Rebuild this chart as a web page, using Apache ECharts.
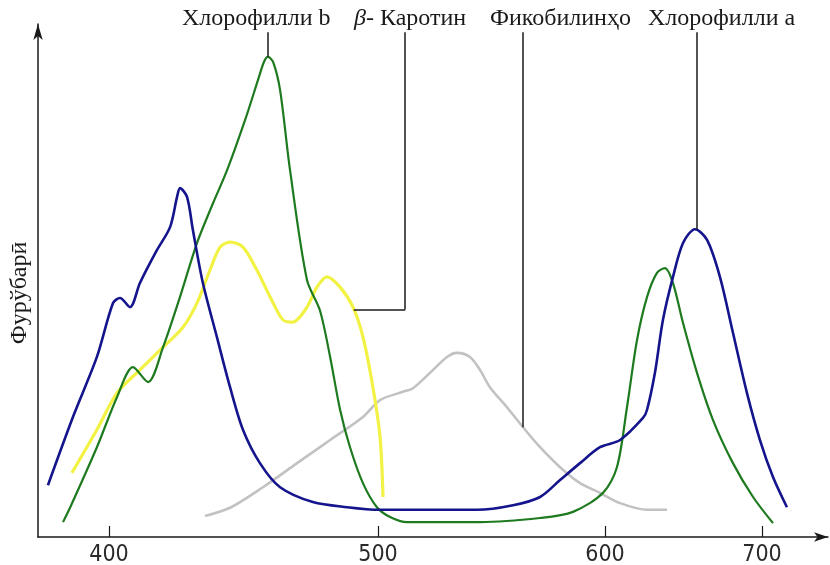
<!DOCTYPE html>
<html>
<head>
<meta charset="utf-8">
<script src="https://cdn.jsdelivr.net/npm/echarts@6/dist/echarts.min.js"></script>
<style>
  html, body { margin: 0; padding: 0; background: #fff; }
  #chart { width: 830px; height: 565px; }
</style>
</head>
<body>
<div id="chart"></div>
<script>
// Wavelength (nm) and relative absorption for each pigment
const chlA_nm  = [377.3, 386.6, 395.5, 401.5, 404.1, 407.8, 411.5, 417.8, 422.7, 425.3, 426.4, 429.0, 431.2, 434.9, 440.1, 445.0, 449.8, 456.1, 463.6, 475.8, 488.5, 500.9, 523.3, 543.6, 559.5, 571.4, 580.2, 589.0, 597.8, 609.6, 624.2, 626.8, 631.8, 636.9, 643.3, 649.7, 657.3, 665.0, 673.2, 681.5, 690.4, 698.7, 707.0, 715.9];
const chlA_val = [10.1, 23.4, 35.1, 45.6, 46.6, 44.8, 49.5, 55.9, 60.4, 66.3, 68.0, 66.3, 59.8, 49.5, 39.0, 29.2, 20.9, 14.4, 9.7, 6.8, 5.8, 5.3, 5.3, 5.3, 6.2, 7.8, 11.1, 14.4, 17.5, 18.9, 23.2, 24.8, 32.0, 42.3, 50.7, 57.3, 60.0, 57.9, 50.7, 39.8, 28.1, 18.9, 11.7, 5.8];

const chlB_nm  = [382.9, 385.5, 395.5, 403.0, 408.9, 414.5, 420.1, 426.4, 432.7, 438.7, 443.9, 450.6, 455.4, 457.6, 459.1, 461.0, 463.6, 467.3, 473.6, 478.4, 482.2, 485.9, 489.6, 494.4, 499.6, 505.3, 512.8, 544.9, 571.4, 585.9, 599.1, 607.6, 614.0, 620.4, 626.8, 633.1, 638.2, 643.3, 649.7, 658.6, 668.8, 681.5, 694.3, 707.0];
const chlB_val = [2.9, 5.7, 17.5, 27.3, 33.1, 30.2, 37.0, 46.8, 57.3, 65.1, 71.5, 81.3, 89.1, 92.6, 93.6, 92.6, 87.1, 71.5, 50.1, 44.2, 35.1, 24.8, 17.5, 10.5, 5.8, 3.9, 2.9, 2.9, 3.7, 4.9, 8.6, 13.6, 25.3, 38.4, 46.8, 51.5, 52.4, 49.5, 41.7, 32.0, 22.8, 14.4, 7.8, 2.7];

const carot_nm  = [386.2, 395.5, 403.0, 411.5, 420.1, 427.5, 432.7, 437.5, 441.3, 445.0, 449.8, 455.0, 459.9, 464.7, 468.4, 473.6, 477.3, 481.0, 485.9, 490.7, 494.4, 498.1, 500.9, 502.2];
const carot_val = [12.5, 20.9, 28.1, 32.6, 37.0, 40.9, 45.6, 52.0, 56.5, 57.5, 56.5, 52.0, 46.8, 42.3, 41.9, 44.8, 48.7, 50.7, 48.7, 44.8, 39.0, 29.2, 19.5, 7.8];

const phyco_nm  = [435.7, 445.0, 457.2, 469.9, 482.2, 494.4, 500.9, 511.0, 515.4, 522.9, 530.4, 534.8, 540.5, 544.9, 549.3, 556.8, 563.9, 571.4, 580.2, 589.0, 597.8, 609.6, 626.8, 639.5];
const phyco_val = [4.1, 5.7, 9.7, 14.4, 18.9, 23.4, 26.7, 28.3, 29.0, 32.0, 35.1, 35.9, 35.1, 32.6, 29.2, 25.3, 21.4, 17.5, 13.6, 10.5, 8.6, 6.6, 5.3, 5.3];

// Axis tick labels (nm)
const tickNm = [400, 500, 600, 700];

// Pigment captions above the plot
const captions = ['Хлорофилли b', 'β- Каротин', 'Фикобилинҳо', 'Хлорофилли а'];
const yTitle = 'Фурўбарӣ';

// The wavelength axis is drawn unevenly: piecewise-linear knots (nm -> axis units)
const scaleKnotsNm = [400, 500, 600, 700];
const scaleKnotsU  = [71, 340, 567, 724];
function warp(nm) {
  const k = scaleKnotsNm, u = scaleKnotsU, n = k.length;
  if (nm <= k[0]) return u[0] + (nm - k[0]) * (u[1] - u[0]) / (k[1] - k[0]);
  if (nm >= k[n - 1]) return u[n - 1] + (nm - k[n - 1]) * (u[n - 1] - u[n - 2]) / (k[n - 1] - k[n - 2]);
  for (let i = 0; i < n - 1; i++) {
    if (nm <= k[i + 1]) return u[i] + (nm - k[i]) * (u[i + 1] - u[i]) / (k[i + 1] - k[i]);
  }
}
function unwarp(x) {
  const k = scaleKnotsNm, u = scaleKnotsU;
  for (let i = 0; i < k.length - 1; i++) {
    if (x <= u[i + 1] + 0.01) return k[i] + (x - u[i]) * (k[i + 1] - k[i]) / (u[i + 1] - u[i]);
  }
  return k[k.length - 1];
}
function valueAt(xs, ys, nm) {
  for (let i = 0; i < xs.length - 1; i++) {
    if (nm >= xs[i] && nm <= xs[i + 1]) return ys[i] + (nm - xs[i]) * (ys[i + 1] - ys[i]) / (xs[i + 1] - xs[i]);
  }
  return ys[ys.length - 1];
}
function pairs(xs, ys) { return xs.map((x, i) => [warp(x), ys[i]]); }
function peakOf(xs, ys, from) {
  let best = -1;
  xs.forEach((x, i) => { if (x >= from && (best < 0 || ys[i] > ys[best])) best = i; });
  return [xs[best], ys[best]];
}

const leaderTop = 98.4;
const ink = '#1a1a1a';
const leaderStyle = { color: ink, width: 1.5, type: 'solid' };
function leader(segments) {
  return {
    silent: true, symbol: 'none', animation: false,
    lineStyle: leaderStyle, label: { show: false }, emphasis: { disabled: true },
    data: segments.map(s => [{ coord: [warp(s[0]), s[1]] }, { coord: [warp(s[2]), s[3]] }])
  };
}

const bPeak = peakOf(chlB_nm, chlB_val, 400);
const aPeak = peakOf(chlA_nm, chlA_val, 600);
const carotAnchorNm = 491, carotElbowNm = 512;
const carotAnchorV = valueAt(carot_nm, carot_val, carotAnchorNm);
const phycoAnchorNm = 563.9;
const phycoAnchorV = valueAt(phyco_nm, phyco_val, phycoAnchorNm);

const chart = echarts.init(document.getElementById('chart'), null, { renderer: 'canvas' });
const serif = '"Liberation Serif", "DejaVu Serif", serif';
const capFont = '24px ' + serif;

chart.setOption({
  animation: false,
  backgroundColor: '#ffffff',
  grid: { left: 38, right: 2, top: 24, bottom: 28, containLabel: false, outerBoundsMode: 'none' },
  xAxis: {
    type: 'value', min: 0, max: 790,
    axisLine: { show: true, lineStyle: { color: ink, width: 1.5 }, symbol: ['none', 'arrow'], symbolSize: [7, 14] },
    axisTick: { show: true, inside: true, length: 11, lineStyle: { color: ink, width: 1.2 }, customValues: tickNm.map(warp) },
    axisLabel: {
      show: true, margin: 7, color: '#2a2a2a',
      fontFamily: '"Liberation Sans Narrow", "DejaVu Sans Condensed", sans-serif', fontSize: 23,
      customValues: tickNm.map(warp),
      formatter: v => String(Math.round(unwarp(v)))
    },
    splitLine: { show: false }
  },
  yAxis: {
    type: 'value', min: 0, max: 100,
    axisLine: { show: true, lineStyle: { color: ink, width: 1.5 }, symbol: ['none', 'arrow'], symbolSize: [7, 16] },
    axisTick: { show: false }, axisLabel: { show: false }, splitLine: { show: false }
  },
  series: [
    {
      name: 'Хлорофилли a', type: 'line', data: pairs(chlA_nm, chlA_val), smooth: 0.3,
      showSymbol: false, lineStyle: { color: '#14148c', width: 2.6 }, z: 4,
      markLine: leader([[aPeak[0] + 1, aPeak[1], aPeak[0] + 1, leaderTop]])
    },
    {
      name: 'Хлорофилли b', type: 'line', data: pairs(chlB_nm, chlB_val), smooth: 0.3,
      showSymbol: false, lineStyle: { color: '#1e7a1e', width: 2.2 }, z: 3,
      markLine: leader([[bPeak[0], bPeak[1], bPeak[0], leaderTop]])
    },
    {
      name: 'β-Каротин', type: 'line', data: pairs(carot_nm, carot_val), smooth: 0.3,
      showSymbol: false, lineStyle: { color: '#f2f244', width: 3.2 }, z: 2,
      markLine: leader([
        [carotAnchorNm, carotAnchorV, carotElbowNm, carotAnchorV],
        [carotElbowNm, carotAnchorV, carotElbowNm, leaderTop]
      ])
    },
    {
      name: 'Фикобилинҳо', type: 'line', data: pairs(phyco_nm, phyco_val), smooth: 0.3,
      showSymbol: false, lineStyle: { color: '#c2c2c2', width: 2.6 }, z: 1,
      markLine: leader([[phycoAnchorNm, phycoAnchorV, phycoAnchorNm, leaderTop]])
    }
  ],
  graphic: [
    { type: 'text', left: 182, top: 7, style: { text: captions[0], font: capFont, fill: '#1a1a1a' } },
    { type: 'text', left: 354, top: 7, style: {
        text: '{g|β}{t|- Каротин}',
        rich: {
          g: { font: 'italic ' + capFont, fill: '#1a1a1a' },
          t: { font: capFont, fill: '#1a1a1a' }
        }
      } },
    { type: 'text', left: 490, top: 7, style: { text: captions[2], font: capFont, fill: '#1a1a1a' } },
    { type: 'text', left: 648, top: 7, style: { text: captions[3], font: capFont, fill: '#1a1a1a' } },
    {
      type: 'text', x: 20, y: 293, rotation: Math.PI / 2,
      style: { text: yTitle, font: '24px ' + serif, fill: '#1a1a1a', align: 'center', verticalAlign: 'middle' }
    }
  ]
});
</script>
</body>
</html>
